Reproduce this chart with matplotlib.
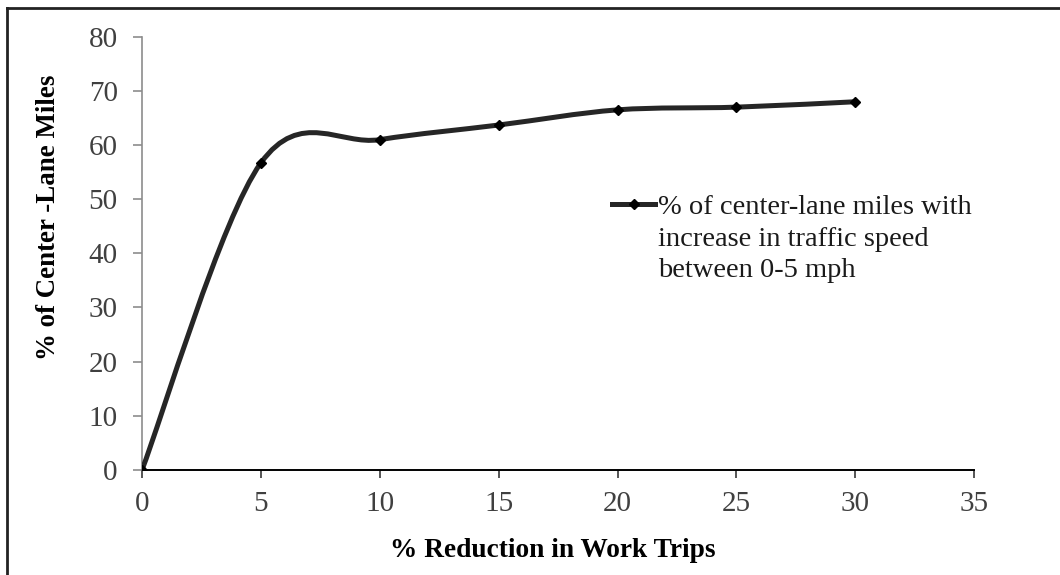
import matplotlib
matplotlib.use("Agg")
import matplotlib.pyplot as plt
from matplotlib.path import Path
from matplotlib.patches import PathPatch
from matplotlib.lines import Line2D

plt.rcParams['font.family'] = ['Liberation Serif', 'DejaVu Serif']

# data
reduction = [0, 5, 10, 15, 20, 25, 30]
pct_miles = [0, 56.7, 61.0, 63.7, 66.5, 67.0, 68.0]
series_lines = ["% of center-lane miles with",
                "increase in traffic speed",
                "between 0-5 mph"]
x_ticks = [0, 5, 10, 15, 20, 25, 30, 35]
y_ticks = [0, 10, 20, 30, 40, 50, 60, 70, 80]

line_color = "#262626"
tick_color = "#404040"


def smooth_path(xs, ys):
    # Excel-style smoothed line: cubic bezier through the points
    pts = list(zip(xs, ys))
    n = len(pts)
    verts = [pts[0]]
    codes = [Path.MOVETO]
    for i in range(n - 1):
        p0 = pts[max(i - 1, 0)]
        p1 = pts[i]
        p2 = pts[i + 1]
        p3 = pts[min(i + 2, n - 1)]
        c1 = (p1[0] + (p2[0] - p0[0]) / 6, p1[1] + (p2[1] - p0[1]) / 6)
        c2 = (p2[0] - (p3[0] - p1[0]) / 6, p2[1] - (p3[1] - p1[1]) / 6)
        verts += [c1, c2, p2]
        codes += [Path.CURVE4] * 3
    return Path(verts, codes)


fig = plt.figure(figsize=(10.6, 5.75), dpi=100)
ax = fig.add_axes([0.134, 0.183, 0.785, 0.753])

ax.add_patch(PathPatch(smooth_path(reduction, pct_miles), facecolor="none",
                       edgecolor=line_color, lw=3.6, capstyle="round", zorder=3))
ax.plot(reduction, pct_miles, ls="none", marker="D", ms=5.5, color="black", zorder=4)

ax.set_xlim(0, 35)
ax.set_ylim(0, 80)
ax.set_xticks(x_ticks)
ax.set_yticks(y_ticks)

for s in ("top", "right"):
    ax.spines[s].set_visible(False)
ax.spines["left"].set_color("#8c8c8c")
ax.spines["left"].set_linewidth(1.2)
ax.spines["bottom"].set_color("black")
ax.spines["bottom"].set_linewidth(1.4)
ax.spines["bottom"].set_zorder(2)
ax.tick_params(axis="y", direction="out", length=6.5, width=1.2, color="#8c8c8c",
               labelsize=21, labelcolor=tick_color, pad=11)
ax.tick_params(axis="x", direction="out", length=5.5, width=1.4, color="#555555",
               labelsize=21, labelcolor=tick_color, pad=10)

ax.set_xlabel("% Reduction in Work Trips", fontsize=19.7, fontweight="bold")
ax.xaxis.label.set_va("center")
ax.xaxis.set_label_coords(0.493, -0.187)
ax.set_ylabel("% of Center -Lane Miles", fontsize=19.4, fontweight="bold")
ax.yaxis.label.set_va("center")
ax.yaxis.set_label_coords(-0.113, 0.582)

handle = Line2D([], [], color=line_color, lw=3.6, marker="D", ms=5.5,
                markerfacecolor="black", markeredgecolor="black")
blank = Line2D([], [], color="none")
ax.legend([handle, blank, blank], series_lines, loc="upper left",
          bbox_to_anchor=(0.565, 0.637), frameon=False, fontsize=20.5,
          handlelength=1.5, handletextpad=0.1, labelspacing=0.2,
          labelcolor="#1a1a1a", borderaxespad=0, borderpad=0)

# outer frame (top and left edges visible in the reference)
fig.add_artist(Line2D([7 / 1060, 1.0], [1 - 8 / 575, 1 - 8 / 575], color="#222222", lw=2))
fig.add_artist(Line2D([7 / 1060, 7 / 1060], [0, 1 - 8 / 575], color="#222222", lw=2))

fig.savefig("out.png", dpi=100)
plt.close(fig)
